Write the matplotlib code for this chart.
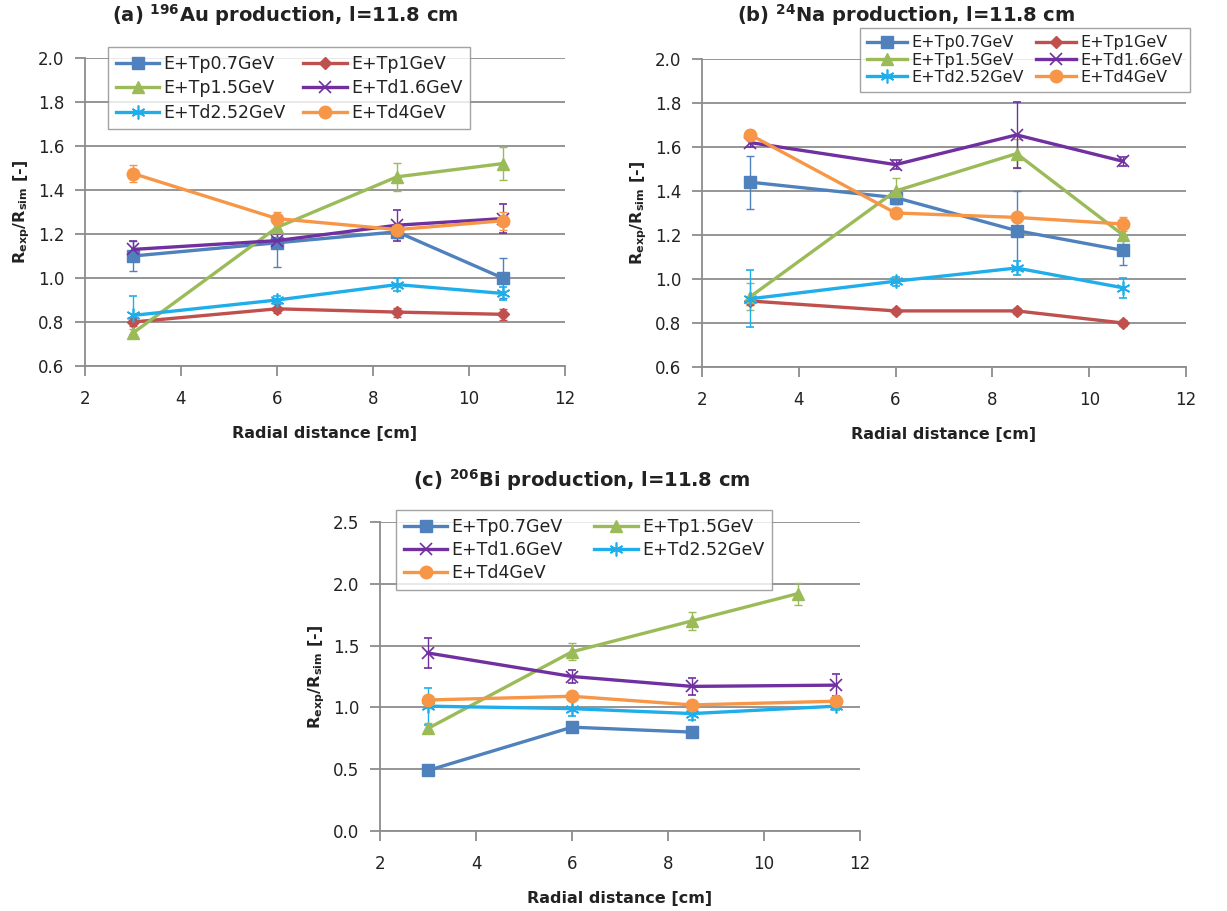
import matplotlib
matplotlib.use("Agg")
import matplotlib.pyplot as plt
from matplotlib.lines import Line2D

plt.rcParams['font.family'] = ['DejaVu Sans']
plt.rcParams['mathtext.fontset'] = 'dejavusans'

# ---- data -------------------------------------------------------------
series_names = ["E+Tp0.7GeV", "E+Tp1GeV", "E+Tp1.5GeV",
                "E+Td1.6GeV", "E+Td2.52GeV", "E+Td4GeV"]

x_ab = [3, 6, 8.5, 10.7]

# (a) 196Au
au_val = {
    "E+Tp0.7GeV":  [1.10, 1.16, 1.21, 1.00],
    "E+Tp1GeV":    [0.80, 0.86, 0.845, 0.835],
    "E+Tp1.5GeV":  [0.75, 1.23, 1.46, 1.52],
    "E+Td1.6GeV":  [1.13, 1.17, 1.24, 1.27],
    "E+Td2.52GeV": [0.83, 0.90, 0.97, 0.93],
    "E+Td4GeV":    [1.475, 1.27, 1.22, 1.26],
}
au_err = {
    "E+Tp0.7GeV":  [0.07, 0.11, 0.03, 0.09],
    "E+Tp1GeV":    [0.02, 0.02, 0.02, 0.025],
    "E+Tp1.5GeV":  [0.02, 0.03, 0.065, 0.075],
    "E+Td1.6GeV":  [0.04, 0.03, 0.07, 0.065],
    "E+Td2.52GeV": [0.09, 0.02, 0.03, 0.03],
    "E+Td4GeV":    [0.04, 0.03, 0.03, 0.04],
}

# (b) 24Na
na_val = {
    "E+Tp0.7GeV":  [1.44, 1.37, 1.22, 1.13],
    "E+Tp1GeV":    [0.90, 0.855, 0.855, 0.80],
    "E+Tp1.5GeV":  [0.92, 1.40, 1.57, 1.20],
    "E+Td1.6GeV":  [1.62, 1.52, 1.655, 1.535],
    "E+Td2.52GeV": [0.91, 0.99, 1.05, 0.96],
    "E+Td4GeV":    [1.655, 1.30, 1.28, 1.25],
}
na_err = {
    "E+Tp0.7GeV":  [0.12, 0.03, 0.18, 0.065],
    "E+Tp1GeV":    [0.02, 0.015, 0.015, 0.015],
    "E+Tp1.5GeV":  [0.06, 0.06, 0.065, 0.05],
    "E+Td1.6GeV":  [0.02, 0.02, 0.15, 0.02],
    "E+Td2.52GeV": [0.13, 0.02, 0.03, 0.045],
    "E+Td4GeV":    [0.02, 0.02, 0.02, 0.03],
}

# (c) 206Bi
bi_x = {
    "E+Tp0.7GeV":  [3, 6, 8.5],
    "E+Tp1.5GeV":  [3, 6, 8.5, 10.7],
    "E+Td1.6GeV":  [3, 6, 8.5, 11.5],
    "E+Td2.52GeV": [3, 6, 8.5, 11.5],
    "E+Td4GeV":    [3, 6, 8.5, 11.5],
}
bi_val = {
    "E+Tp0.7GeV":  [0.49, 0.84, 0.80],
    "E+Tp1.5GeV":  [0.83, 1.45, 1.70, 1.92],
    "E+Td1.6GeV":  [1.44, 1.25, 1.17, 1.18],
    "E+Td2.52GeV": [1.01, 0.99, 0.95, 1.01],
    "E+Td4GeV":    [1.06, 1.09, 1.02, 1.05],
}
bi_err = {
    "E+Tp0.7GeV":  [0.02, 0.02, 0.02],
    "E+Tp1.5GeV":  [0.04, 0.07, 0.07, 0.09],
    "E+Td1.6GeV":  [0.12, 0.05, 0.07, 0.09],
    "E+Td2.52GeV": [0.15, 0.06, 0.05, 0.03],
    "E+Td4GeV":    [0.03, 0.03, 0.03, 0.03],
}

# ---- styles -----------------------------------------------------------
style = {
    "E+Tp0.7GeV":  dict(color="#4F81BD", marker="s", ms=9,  mew=1.0),
    "E+Tp1GeV":    dict(color="#C0504D", marker="D", ms=6,  mew=1.0),
    "E+Tp1.5GeV":  dict(color="#9BBB59", marker="^", ms=9,  mew=1.0),
    "E+Td1.6GeV":  dict(color="#7030A0", marker="x", ms=9,  mew=1.2),
    "E+Td2.52GeV": dict(color="#1FAEEA", marker=(6, 2, 0), ms=10, mew=1.2),
    "E+Td4GeV":    dict(color="#F79646", marker="o", ms=9,  mew=1.0),
}

GRID = "#8C8C8C"
TXT = "#222222"
W, H = 1227, 911
fig = plt.figure(figsize=(W / 100, H / 100), dpi=100)


def px_axes(left, top, right, bottom):
    return fig.add_axes([left / W, 1 - bottom / H, (right - left) / W, (bottom - top) / H])


def draw_panel(ax, names, xs, vals, errs, ylim, yticks, yfmt):
    for n in names:
        st = style[n]
        ax.errorbar(xs[n] if isinstance(xs, dict) else xs, vals[n], yerr=errs[n],
                    color=st["color"], lw=2.4, marker=st["marker"], ms=st["ms"],
                    mew=st["mew"], mec=st["color"], mfc=st["color"],
                    elinewidth=1.0, capsize=3, capthick=1.0, zorder=3)
    ax.set_xlim(2, 12)
    ax.set_xticks([2, 4, 6, 8, 10, 12])
    ax.set_ylim(*ylim)
    ax.set_yticks(yticks)
    ax.set_yticklabels([yfmt.format(v) for v in yticks])
    for s in ("top", "right"):
        ax.spines[s].set_visible(False)
    for s in ("left", "bottom"):
        ax.spines[s].set_color(GRID)
        ax.spines[s].set_linewidth(1.3)
    ax.yaxis.grid(True, color=GRID, lw=1.3)
    ax.set_axisbelow(True)
    ax.tick_params(axis="both", colors=GRID, length=7, width=1.3, labelsize=12,
                   labelcolor=TXT)
    ax.tick_params(axis="x", pad=10)
    ax.tick_params(axis="y", pad=8)
    ax.set_xlabel("Radial distance [cm]", fontsize=11.5, fontweight="bold",
                  color=TXT, labelpad=13)
    ax.set_ylabel(r"$\mathbf{R_{exp}/R_{sim}}$ [-]", fontsize=11.5,
                  fontweight="bold", color=TXT, labelpad=4)


def add_legend(ax, order, x0, y0, fs, colsp, rowsp):
    handles = []
    for n in order:
        st = style[n]
        handles.append(Line2D([], [], color=st["color"], lw=2.4, marker=st["marker"],
                              ms=st["ms"], mew=st["mew"], mec=st["color"],
                              mfc=st["color"], label=n))
    leg = ax.legend(handles=handles, ncol=2, loc="upper left",
                    bbox_to_anchor=(x0 / W, 1 - y0 / H),
                    bbox_transform=fig.transFigure, fontsize=fs,
                    frameon=True, fancybox=False, edgecolor=GRID,
                    handlelength=2.5, handletextpad=0.25, columnspacing=colsp,
                    labelspacing=rowsp, borderpad=0.45, borderaxespad=0)
    leg.get_frame().set_linewidth(1.0)
    leg.set_zorder(5)
    for t in leg.get_texts():
        t.set_color(TXT)
    return leg


def add_title(xc, yc, text):
    fig.text(xc / W, 1 - yc / H, text, ha="center", va="center", fontsize=14,
             fontweight="bold", color=TXT)


# (a)
ax_a = px_axes(85, 58, 565, 366)
draw_panel(ax_a, series_names, x_ab, au_val, au_err, (0.6, 2.0),
           [0.6, 0.8, 1.0, 1.2, 1.4, 1.6, 1.8, 2.0], "{:.1f}")
add_legend(ax_a, ["E+Tp0.7GeV", "E+Tp1.5GeV", "E+Td2.52GeV",
                  "E+Tp1GeV", "E+Td1.6GeV", "E+Td4GeV"], 108, 47,
           fs=12.5, colsp=1.0, rowsp=0.37)
add_title(285, 15, r"(a) $\mathbf{^{196}}$Au production, l=11.8 cm")

# (b)
ax_b = px_axes(702, 59, 1186, 367)
draw_panel(ax_b, series_names, x_ab, na_val, na_err, (0.6, 2.0),
           [0.6, 0.8, 1.0, 1.2, 1.4, 1.6, 1.8, 2.0], "{:.1f}")
add_legend(ax_b, ["E+Tp0.7GeV", "E+Tp1.5GeV", "E+Td2.52GeV",
                  "E+Tp1GeV", "E+Td1.6GeV", "E+Td4GeV"], 860, 28,
           fs=11.5, colsp=0.8, rowsp=0.15)
add_title(906, 15, r"(b) $\mathbf{^{24}}$Na production, l=11.8 cm")

# (c)
bi_names = ["E+Tp0.7GeV", "E+Tp1.5GeV", "E+Td1.6GeV", "E+Td2.52GeV", "E+Td4GeV"]
ax_c = px_axes(380, 522, 860, 831)
draw_panel(ax_c, bi_names, bi_x, bi_val, bi_err, (0.0, 2.5),
           [0.0, 0.5, 1.0, 1.5, 2.0, 2.5], "{:.1f}")
add_legend(ax_c, ["E+Tp0.7GeV", "E+Td1.6GeV", "E+Td4GeV",
                  "E+Tp1.5GeV", "E+Td2.52GeV"], 396, 510,
           fs=12.5, colsp=1.8, rowsp=0.3)
add_title(582, 480, r"(c) $\mathbf{^{206}}$Bi production, l=11.8 cm")

fig.savefig("out.png", dpi=100, facecolor="white")
